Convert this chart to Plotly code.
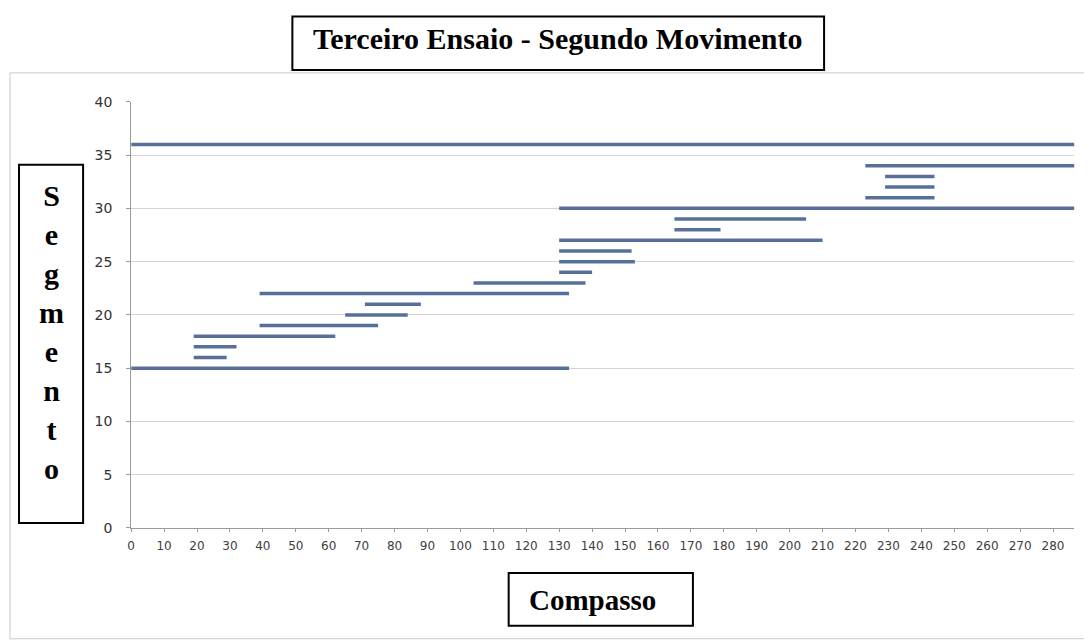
import plotly.graph_objects as go

W, H = 1092, 641

# Segmentos: nivel (eixo y), compasso inicial e final
segmento = [36, 15, 16, 17, 18, 19, 20, 21, 22, 23, 24,
            25, 26, 27, 28, 29, 30, 31, 32, 33, 34]
inicio = [0, 0, 19, 19, 19, 39, 65, 71, 39, 104, 130,
          130, 130, 130, 165, 165, 130, 223, 229, 229, 223]
fim = [286.5, 133, 29, 32, 62, 75, 84, 88, 133, 138, 140,
       153, 152, 210, 179, 205, 286.5, 244, 244, 244, 286.5]

x_ticks = list(range(0, 290, 10))
y_ticks = list(range(0, 45, 5))

titulo = "Terceiro Ensaio - Segundo Movimento"
rotulo_x = "Compasso"
rotulo_y = "Segmento"


# posicoes medidas na imagem -> coordenadas de papel
# (compensa o deslocamento da pagina observado no navegador)
def px(x):
    return ((x - 11) / 0.995) / W


def py(y):
    return 1 - max((y - 14) / 0.977, 0.5) / H


# uma unica serie, segmentos separados por None
xs, ys = [], []
for s, a, b in zip(segmento, inicio, fim):
    xs += [a, b, None]
    ys += [s, s, None]

fig = go.Figure(go.Scatter(
    x=xs, y=ys, mode="lines",
    line=dict(color="#56709a", width=3.5),
    hoverinfo="skip", showlegend=False,
))

caixa = dict(type="rect", xref="paper", yref="paper",
             line=dict(color="black", width=2), fillcolor="white")

fig.update_layout(
    width=W, height=H,
    margin=dict(l=0, r=0, t=0, b=0),
    paper_bgcolor="white",
    plot_bgcolor="white",
    showlegend=False,
    xaxis=dict(
        domain=[px(130), px(1072)],
        range=[0, 286.5],
        tickvals=x_ticks,
        ticks="outside", ticklen=3, tickcolor="#9a9a9a",
        showgrid=False, zeroline=False,
        showline=True, linecolor="#9a9a9a", linewidth=1,
        tickfont=dict(family="DejaVu Sans", size=12, color="#404040"),
        ticklabelstandoff=4,
    ),
    yaxis=dict(
        domain=[py(527), py(100)],
        range=[0, 40],
        tickvals=y_ticks,
        ticks="outside", ticklen=4, tickcolor="#9a9a9a",
        showgrid=True, gridcolor="#d4d4d4", gridwidth=1,
        zeroline=False,
        showline=True, linecolor="#9a9a9a", linewidth=1,
        tickfont=dict(family="DejaVu Sans", size=14, color="#333333"),
        ticklabelstandoff=11,
    ),
    shapes=[
        dict(type="rect", xref="paper", yref="paper",
             x0=px(9), x1=px(1090), y0=py(638), y1=py(71),
             line=dict(color="#c8c8c8", width=1), layer="below"),
        dict(caixa, x0=px(291), x1=px(822), y0=py(68), y1=py(4)),
        dict(caixa, x0=px(18), x1=px(82), y0=py(522), y1=py(163)),
        dict(caixa, x0=px(507), x1=px(691), y0=py(625), y1=py(572)),
    ],
    annotations=[
        dict(text="<b>" + titulo + "</b>", xref="paper", yref="paper",
             x=px(556), y=py(37), xanchor="center", yanchor="middle",
             showarrow=False,
             font=dict(family="Liberation Serif", size=30, color="black")),
        dict(text="<b>" + "<br>".join(rotulo_y) + "</b>",
             xref="paper", yref="paper",
             x=px(50), y=py(331), xanchor="center", yanchor="middle",
             showarrow=False,
             font=dict(family="Liberation Serif", size=30, color="black")),
        dict(text="<b>" + rotulo_x + "</b>", xref="paper", yref="paper",
             x=px(591), y=py(599), xanchor="center", yanchor="middle",
             showarrow=False,
             font=dict(family="Liberation Serif", size=29, color="black")),
    ],
)

fig.write_html("out.html")
